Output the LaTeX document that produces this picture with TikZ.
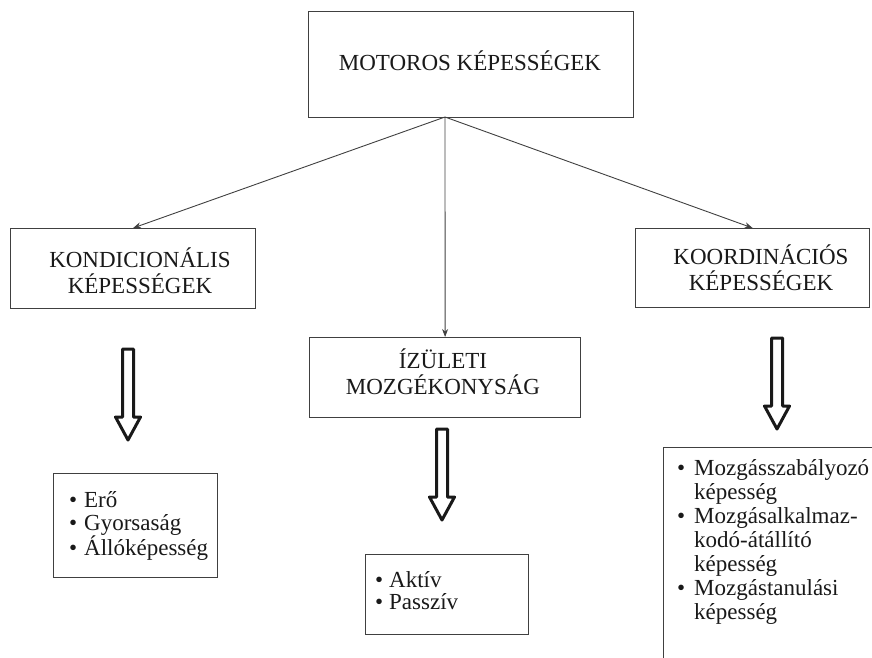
\documentclass[tikz,border=0pt]{standalone}
\usepackage{fontspec}
\setmainfont{Liberation Serif}
\usetikzlibrary{arrows.meta}
\newcommand\mystrut{\rule{0pt}{22pt}}
\newcommand\bul[1][15pt]{\makebox[#1][l]{•}}
\begin{document}
\begin{tikzpicture}[x=1pt,y=-1pt,
  box/.style={draw=black!75,line width=1.2pt,rectangle,inner sep=0pt,anchor=north west},
  hdr/.style={anchor=north,align=center,inner sep=0pt,text=black!90,font=\fontsize{23}{26}\selectfont},
  lst/.style={anchor=north west,align=left,inner sep=0pt,text=black!90},
  link/.style={draw=black!75,line width=0.9pt,-{Stealth[length=8pt,width=6pt]}},
  harrow/.pic={\draw[line width=3pt,line join=round,draw=black!90,fill=white]
     (-5.5,0)--(5.5,0)--(5.5,68)--(12.5,68)--(0,91)--(-12.5,68)--(-5.5,68)--cycle;}
]
\useasboundingbox (0,0) rectangle (872,657);
\clip (0,0) rectangle (872,657);

% boxes
\node[box,minimum width=325pt,minimum height=106pt] (top) at (308,11) {};
\node[box,minimum width=245pt,minimum height=80pt] (kond) at (10,228) {};
\node[box,minimum width=234pt,minimum height=79pt] (koord) at (635,228) {};
\node[box,minimum width=271pt,minimum height=80pt] (iz) at (309,337) {};
\node[box,minimum width=164pt,minimum height=104pt] (ero) at (53,473) {};
\node[box,minimum width=163pt,minimum height=80pt] (akt) at (365,554) {};
\node[box,minimum width=240pt,minimum height=250pt] (mozg) at (663,447) {};

% texts
\node[hdr,anchor=base] (toptext) at (470,70) {MOTOROS KÉPESSÉGEK};
\node[hdr] (kondtext) at (140,245) {\mystrut KONDICIONÁLIS\\KÉPESSÉGEK};
\node[hdr] (koordtext) at (761,242) {\mystrut KOORDINÁCIÓS\\KÉPESSÉGEK};
\node[hdr] (iztext) at (443,346) {\mystrut ÍZÜLETI\\MOZGÉKONYSÁG};

\node[lst,font=\fontsize{23}{23}\selectfont] (erotext) at (69,485)
  {\mystrut\bul Erő\\\bul Gyorsaság\\\bul Állóképesség};
\node[lst,font=\fontsize{23}{22}\selectfont] (akttext) at (375,565)
  {\mystrut\bul[14pt]Aktív\\\bul[14pt]Passzív};
\node[lst,font=\fontsize{23}{24}\selectfont] (mozgtext) at (677,453)
  {\mystrut\bul[17pt]Mozgásszabályozó\\\hspace*{17pt}képesség\\\bul[17pt]Mozgásalkalmaz-\\\hspace*{17pt}kodó-átállító\\\hspace*{17pt}képesség\\\bul[17pt]Mozgástanulási\\\hspace*{17pt}képesség};

% connectors
\coordinate (o) at (445,117);
\draw[link] (o) -- (kond.north);
\draw[link] (o) -- (iz.north);
\draw[link] (o) -- (koord.north);

% hollow arrows
\pic (ha1) at (128,349) {harrow};
\pic (ha2) at (442,429) {harrow};
\pic (ha3) at (777,338) {harrow};
\end{tikzpicture}
\end{document}
